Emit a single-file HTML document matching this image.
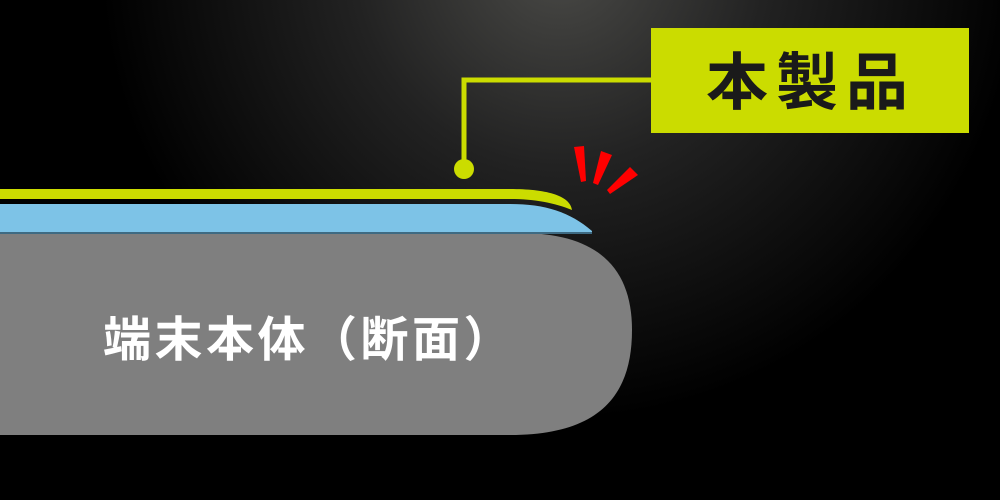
<!DOCTYPE html>
<html><head><meta charset="utf-8"><style>
html,body{margin:0;padding:0;width:1000px;height:500px;overflow:hidden;background:#000}
</style></head><body>
<svg width="1000" height="500" viewBox="0 0 1000 500" xmlns="http://www.w3.org/2000/svg">
<defs>
<radialGradient id="bg" cx="560" cy="-40" r="460" gradientUnits="userSpaceOnUse">
<stop offset="0" stop-color="#4a4a47"/><stop offset="0.45" stop-color="#222"/><stop offset="1" stop-color="#000"/>
</radialGradient>
</defs>
<rect width="1000" height="500" fill="url(#bg)"/>
<path d="M0 233 H520 C600 233 632 270 632 330 C632 395 600 435 510 435 H0 Z" fill="#7f7f7f"/>
<path d="M0 204 H510 C545 204 570 212 592 231 L592 234 H0 Z" fill="#7dc3e7"/>
<rect x="0" y="232" width="592" height="2" fill="#3e6a82"/>
<path d="M0 189 H510 C545 189 570 195 572 210 C555 203 535 199 510 199 H0 Z" fill="#cbdc00"/>
<polyline points="651,80 464,80 464,169" fill="none" stroke="#cbdc00" stroke-width="5"/>
<circle cx="464" cy="169" r="10" fill="#cbdc00"/>
<rect x="651" y="28" width="318" height="105" fill="#cbdc00"/>
<text x="706" y="104" font-family="'Liberation Sans','Noto Sans CJK JP',sans-serif" font-weight="bold" font-size="62" fill="#1a1a1a" letter-spacing="8">本製品</text>
<text x="103" y="356" font-family="'Liberation Sans','Noto Sans CJK JP',sans-serif" font-weight="bold" font-size="48" fill="#fff" letter-spacing="3.5">端末本体（断面）</text>
<g fill="#ff0000">
<polygon points="574,147 584,146 586,181 581,182"/>
<polygon points="601,151 612,155 598,185 593,183"/>
<polygon points="630,167 638,175 610,194 607,190"/>
</g>
</svg>
</body></html>
